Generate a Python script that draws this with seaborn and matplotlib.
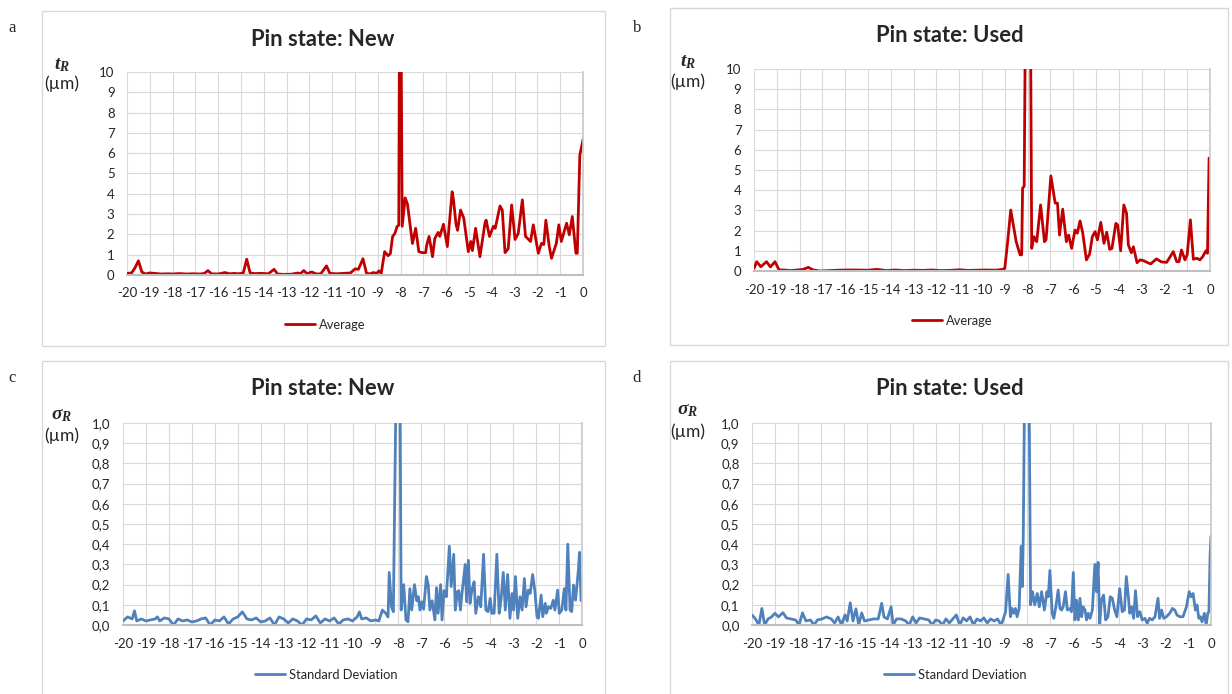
import numpy as np
import pandas as pd
import seaborn as sns
import matplotlib.pyplot as plt
from matplotlib.patches import Rectangle

# ---- data (x in mm, y in µm) ----
new_avg_x = [-20.0, -19.8, -19.65, -19.5, -19.35, -19.2, -19.0, -18.8, -18.5, -18.2, -18.0, -17.7, -17.4,
             -17.1, -16.8, -16.6, -16.45, -16.3, -16.0, -15.7, -15.5, -15.3, -15.1, -14.9, -14.75, -14.6,
             -14.4, -14.1, -13.8, -13.55, -13.4, -13.1, -12.8, -12.5, -12.4, -12.25, -12.1, -11.9, -11.7,
             -11.5, -11.25, -11.1, -10.8, -10.5, -10.2, -10.0, -9.85, -9.65, -9.5, -9.35, -9.2, -9.05, -8.95,
             -8.85, -8.7, -8.55, -8.45, -8.35, -8.25, -8.15, -8.08, -8.05, -7.98, -7.93, -7.8, -7.7, -7.48,
             -7.34, -7.2, -7.05, -6.9, -6.85, -6.75, -6.6, -6.5, -6.35, -6.28, -6.12, -5.95, -5.74, -5.68,
             -5.57, -5.5, -5.37, -5.23, -5.03, -4.92, -4.85, -4.71, -4.52, -4.3, -4.25, -4.1, -3.93, -3.85,
             -3.64, -3.54, -3.42, -3.28, -3.13, -2.98, -2.84, -2.66, -2.52, -2.3, -2.18, -1.96, -1.82, -1.72,
             -1.63, -1.48, -1.38, -1.17, -1.06, -0.95, -0.72, -0.6, -0.47, -0.31, -0.25, -0.14, 0.0]
new_avg_y = [0.08, 0.1, 0.35, 0.7, 0.15, 0.05, 0.1, 0.08, 0.05, 0.06, 0.05, 0.07, 0.05,
             0.06, 0.05, 0.08, 0.22, 0.06, 0.05, 0.12, 0.06, 0.08, 0.06, 0.1, 0.78, 0.1,
             0.07, 0.08, 0.06, 0.28, 0.05, 0.03, 0.04, 0.1, 0.05, 0.22, 0.06, 0.15, 0.05,
             0.06, 0.45, 0.08, 0.06, 0.08, 0.1, 0.3, 0.28, 0.8, 0.1, 0.05, 0.12, 0.08, 0.2,
             0.08, 1.15, 0.95, 1.05, 1.9, 2.05, 2.4, 2.45, 12.0, 12.0, 2.4, 3.8, 3.5, 1.55,
             2.3, 1.15, 1.1, 1.1, 1.5, 1.9, 0.9, 1.8, 2.1, 1.9, 2.5, 1.4, 4.1, 3.7,
             2.5, 2.2, 3.2, 2.8, 1.15, 1.65, 1.2, 2.3, 0.9, 2.55, 2.7, 1.9, 2.4, 2.3,
             3.4, 3.2, 1.1, 1.3, 3.45, 1.75, 2.05, 3.7, 1.9, 1.65, 2.47, 1.07, 1.56, 1.5,
             2.7, 1.4, 0.82, 1.56, 2.47, 1.65, 2.55, 1.98, 2.88, 1.07, 1.07, 5.9, 6.67]

used_avg_x = [-20.0, -19.88, -19.7, -19.45, -19.28, -19.08, -18.9, -18.7, -18.4, -18.1, -17.85, -17.62,
              -17.4, -17.1, -16.7, -16.3, -15.9, -15.45, -15.0, -14.6, -14.2, -13.8, -13.4, -13.0, -12.6,
              -12.2, -11.8, -11.4, -11.0, -10.6, -10.2, -9.8, -9.4, -9.1, -9.0, -8.87, -8.74, -8.5, -8.33,
              -8.26, -8.22, -8.15, -8.1, -7.87, -7.82, -7.72, -7.6, -7.43, -7.26, -7.19, -6.98, -6.79,
              -6.69, -6.6, -6.46, -6.3, -6.2, -6.07, -5.92, -5.82, -5.7, -5.58, -5.42, -5.28, -5.16,
              -5.04, -4.94, -4.79, -4.65, -4.53, -4.4, -4.3, -4.13, -4.05, -3.92, -3.78, -3.66, -3.58,
              -3.45, -3.36, -3.2, -3.06, -2.91, -2.77, -2.6, -2.35, -2.13, -1.9, -1.79, -1.61, -1.46,
              -1.36, -1.25, -1.1, -1.0, -0.86, -0.73, -0.58, -0.44, -0.32, -0.18, -0.11, -0.04, 0.0]
used_avg_y = [0.13, 0.46, 0.21, 0.46, 0.2, 0.46, 0.05, 0.05, 0.02, 0.05, 0.08, 0.18,
              0.05, 0.0, 0.02, 0.04, 0.05, 0.05, 0.04, 0.08, 0.02, 0.05, 0.02, 0.04, 0.03,
              0.05, 0.02, 0.03, 0.06, 0.03, 0.04, 0.05, 0.04, 0.08, 0.13, 1.5, 3.02, 1.45, 0.8,
              0.8, 4.1, 4.2, 12.0, 12.0, 1.12, 1.7, 1.45, 3.27, 1.45, 1.55, 4.71, 3.36,
              3.36, 1.78, 3.06, 1.45, 1.78, 1.12, 2.03, 1.87, 2.48, 1.87, 0.55, 0.84, 1.7,
              1.95, 1.54, 2.41, 1.37, 1.92, 1.07, 1.12, 2.36, 2.28, 1.0, 3.27, 2.86, 1.29,
              0.9, 1.2, 0.41, 0.55, 0.51, 0.43, 0.35, 0.6, 0.45, 0.43, 0.63, 0.96, 0.46,
              0.46, 1.04, 0.55, 0.8, 2.53, 0.58, 0.63, 0.55, 0.71, 1.0, 0.88, 5.59, 5.6]

new_std_x = [-20.0, -19.8, -19.6, -19.5, -19.4, -19.2, -19.0, -18.8, -18.6, -18.5, -18.4, -18.2, -18.0,
             -17.8, -17.6, -17.4, -17.2, -17.0, -16.8, -16.6, -16.4, -16.2, -16.0, -15.8, -15.6, -15.4,
             -15.2, -15.0, -14.8, -14.6, -14.4, -14.2, -14.0, -13.8, -13.6, -13.4, -13.2, -13.0, -12.8,
             -12.6, -12.4, -12.2, -12.0, -11.8, -11.6, -11.4, -11.2, -11.0, -10.8, -10.6, -10.4, -10.2,
             -10.0, -9.8, -9.7, -9.6, -9.4, -9.2,
             -9.0, -8.85, -8.7, -8.55, -8.45, -8.4, -8.3, -8.22, -8.1, -7.93, -7.88, -7.77, -7.67, -7.58,
             -7.5, -7.42, -7.3, -7.2, -7.13, -7.06, -6.98, -6.9, -6.78, -6.7, -6.63, -6.53, -6.41, -6.34,
             -6.27, -6.16, -6.1, -6.01, -5.95, -5.91, -5.78, -5.7, -5.59, -5.52, -5.43, -5.37, -5.3,
             -5.23, -5.09, -5.03, -4.95, -4.88, -4.8, -4.7, -4.63, -4.51, -4.41, -4.29, -4.19, -4.09,
             -4.0, -3.93, -3.83, -3.71, -3.61, -3.53, -3.43, -3.34, -3.24, -3.14, -3.05, -2.98, -2.9,
             -2.8, -2.7, -2.61, -2.51, -2.44, -2.34, -2.26, -2.15, -2.05, -1.96, -1.9, -1.78, -1.71,
             -1.6, -1.55, -1.46, -1.36, -1.25, -1.18, -1.06, -0.99, -0.88, -0.77, -0.7, -0.62, -0.52,
             -0.45, -0.37, -0.28, -0.22, -0.16, -0.11, -0.04, 0.0]
new_std_y = [0.02, 0.04, 0.03, 0.07, 0.02, 0.03, 0.02, 0.025, 0.03, 0.04, 0.02, 0.035, 0.03,
             0.0, 0.03, 0.02, 0.025, 0.015, 0.02, 0.03, 0.035, 0.0, 0.025, 0.02, 0.04, 0.005,
             0.03, 0.04, 0.065, 0.03, 0.025, 0.035, 0.015, 0.02, 0.035, 0.0, 0.04, 0.03, 0.01,
             0.03, 0.02, 0.0, 0.03, 0.025, 0.045, 0.01, 0.03, 0.02, 0.035, 0.005, 0.025, 0.03,
             0.02, 0.04, 0.065, 0.03, 0.035, 0.02,
             0.025, 0.02, 0.074, 0.058, 0.04, 0.26, 0.09, 0.066, 1.2, 1.2, 0.074, 0.2, 0.025, 0.016,
             0.18, 0.074, 0.2, 0.12, 0.14, 0.074, 0.115, 0.078, 0.24, 0.2, 0.074, 0.12, 0.025, 0.185,
             0.058, 0.2, 0.025, 0.17, 0.165, 0.14, 0.39, 0.19, 0.35, 0.074, 0.165, 0.17, 0.074,
             0.156, 0.3, 0.115, 0.32, 0.107, 0.173, 0.214, 0.058, 0.14, 0.09, 0.35, 0.074, 0.066,
             0.132, 0.058, 0.058, 0.35, 0.058, 0.123, 0.26, 0.074, 0.25, 0.033, 0.156, 0.074, 0.24,
             0.033, 0.14, 0.074, 0.23, 0.09, 0.173, 0.156, 0.25, 0.165, 0.041, 0.033, 0.148, 0.041,
             0.107, 0.058, 0.09, 0.082, 0.123, 0.074, 0.173, 0.058, 0.074, 0.18, 0.074, 0.4, 0.074,
             0.066, 0.198, 0.123, 0.198, 0.27, 0.36, 0.12, 0.13]

used_std_x = [-20.0, -19.85, -19.7, -19.57, -19.45, -19.3, -19.15, -19.0, -18.85, -18.65, -18.5, -18.3,
              -18.1, -17.95, -17.8, -17.65, -17.45, -17.3, -17.15, -16.95, -16.75, -16.55, -16.4, -16.25,
              -16.1, -15.95, -15.85, -15.72, -15.6, -15.47, -15.35, -15.22, -15.1, -14.9, -14.7, -14.5,
              -14.35, -14.25, -14.1, -13.94, -13.85, -13.7, -13.5, -13.3, -13.15, -13.0, -12.85, -12.7,
              -12.5, -12.3, -12.15, -12.0, -11.85, -11.7, -11.55, -11.4, -11.25, -11.1, -10.95, -10.8,
              -10.65, -10.5, -10.35, -10.2, -10.05, -9.9, -9.75, -9.6, -9.45, -9.3, -9.15, -9.05,
              -8.95, -8.84, -8.74, -8.67, -8.6, -8.52, -8.45, -8.36, -8.27, -8.22, -8.18, -8.12, -7.93,
              -7.86, -7.78, -7.68, -7.57, -7.48, -7.38, -7.26, -7.15, -7.09, -7.02, -6.92, -6.85, -6.76,
              -6.66, -6.58, -6.51, -6.44, -6.34, -6.26, -6.15, -6.08, -6.0, -5.93, -5.86, -5.78, -5.71,
              -5.64, -5.57, -5.49, -5.42, -5.35, -5.27, -5.17, -5.06, -4.99, -4.92, -4.85, -4.78, -4.68,
              -4.59, -4.49, -4.39, -4.3, -4.2, -4.1, -3.98, -3.87, -3.77, -3.69, -3.6, -3.54, -3.46,
              -3.37, -3.29, -3.2, -3.1, -3.0, -2.88, -2.78, -2.68, -2.56, -2.44, -2.31, -2.24, -2.15,
              -2.06, -1.94, -1.8, -1.68, -1.58, -1.48, -1.36, -1.22, -1.07, -0.95, -0.87, -0.78, -0.68,
              -0.61, -0.53, -0.46, -0.39, -0.29, -0.21, -0.14, -0.09, -0.04, 0.0]
used_std_y = [0.05, 0.03, 0.0, 0.082, 0.0, 0.03, 0.04, 0.058, 0.04, 0.061, 0.035, 0.03,
              0.025, 0.0, 0.06, 0.02, 0.025, 0.0, 0.025, 0.03, 0.04, 0.03, 0.01, 0.04,
              0.0, 0.05, 0.02, 0.11, 0.02, 0.08, 0.0, 0.06, 0.02, 0.025, 0.03, 0.03,
              0.107, 0.04, 0.03, 0.09, 0.0, 0.03, 0.03, 0.02, 0.0, 0.04, 0.01, 0.035,
              0.03, 0.025, 0.0, 0.025, 0.02, 0.0, 0.03, 0.01, 0.03, 0.05, 0.0, 0.035,
              0.02, 0.04, 0.0, 0.03, 0.02, 0.035, 0.01, 0.03, 0.02, 0.03, 0.0, 0.03,
              0.066, 0.25, 0.041, 0.082, 0.058, 0.082, 0.041, 0.082, 0.39, 0.19, 0.44, 1.2, 1.2,
              0.1, 0.165, 0.1, 0.156, 0.09, 0.165, 0.074, 0.165, 0.14, 0.27, 0.058, 0.033, 0.09,
              0.173, 0.082, 0.074, 0.09, 0.165, 0.074, 0.082, 0.066, 0.26, 0.025, 0.123, 0.025, 0.132,
              0.041, 0.09, 0.074, 0.025, 0.058, 0.033, 0.074, 0.3, 0.165, 0.31, 0.0, 0.123, 0.148,
              0.025, 0.041, 0.14, 0.132, 0.074, 0.041, 0.18, 0.066, 0.074, 0.24, 0.14, 0.058, 0.09,
              0.033, 0.17, 0.041, 0.066, 0.025, 0.033, 0.008, 0.033, 0.025, 0.041, 0.132, 0.033, 0.074,
              0.033, 0.041, 0.058, 0.082, 0.074, 0.049, 0.041, 0.041, 0.09, 0.165, 0.14, 0.156, 0.074,
              0.099, 0.033, 0.041, 0.016, 0.058, 0.0, 0.058, 0.066, 0.34, 0.44]

x_ticks = [-20, -19, -18, -17, -16, -15, -14, -13, -12, -11, -10, -9, -8, -7, -6, -5, -4, -3, -2, -1, 0]
avg_ticks = [0, 1, 2, 3, 4, 5, 6, 7, 8, 9, 10]
std_ticks = [0.0, 0.1, 0.2, 0.3, 0.4, 0.5, 0.6, 0.7, 0.8, 0.9, 1.0]
std_tick_labels = ["0,0", "0,1", "0,2", "0,3", "0,4", "0,5", "0,6", "0,7", "0,8", "0,9", "1,0"]

RED = "#C00000"
BLUE = "#4F81BD"

sns.set_style("white")
plt.rcParams["font.family"] = ["Lato", "DejaVu Sans"]
plt.rcParams["mathtext.fontset"] = "custom"
plt.rcParams["mathtext.it"] = "Liberation Serif:italic:bold"
plt.rcParams["mathtext.rm"] = "Liberation Serif:bold"

W, H = 1232, 694
fig = plt.figure(figsize=(W / 100, H / 100), dpi=100)


def fx(px):
    return px / W


def fy(py):
    return 1 - py / H


panels = [
    # letter, frame(l,t,r,b), axes(l,t,r,b), x, y, color, label, title, ylab, title x/y, ylab y's, legend x/y
    ("a", (42, 11, 605, 346), (127, 72, 583, 275), new_avg_x, new_avg_y, RED, "Average",
     "Pin state: New", r"$t_R$", 323, 40, 65, 84, 325, 325),
    ("b", (670, 8, 1228, 345), (754, 69, 1210, 271), used_avg_x, used_avg_y, RED, "Average",
     "Pin state: Used", r"$t_R$", 950, 36, 62, 82, 952, 321),
    ("c", (42, 361, 605, 700), (123, 423, 582, 625), new_std_x, new_std_y, BLUE, "Standard Deviation",
     "Pin state: New", r"$\sigma_R$", 323, 389, 415, 436, 326, 675),
    ("d", (670, 361, 1228, 700), (752, 423, 1211, 625), used_std_x, used_std_y, BLUE, "Standard Deviation",
     "Pin state: Used", r"$\sigma_R$", 950, 389, 411, 432, 955, 675),
]

for (letter, frame, box, xs, ys, color, label, title, ylab,
     tx, ty, ly1, ly2, legx, legy) in panels:
    fl, ft, fr, fb = frame
    fig.patches.append(Rectangle((fx(fl), fy(fb)), fx(fr) - fx(fl), fy(ft) - fy(fb),
                                 transform=fig.transFigure, fill=False,
                                 edgecolor="#d9d9d9", linewidth=1.0, zorder=0))
    l, t, r, b = box
    ax = fig.add_axes([fx(l), fy(b), fx(r) - fx(l), fy(t) - fy(b)])
    df = pd.DataFrame({"x": xs, "y": ys})
    sns.lineplot(data=df, x="x", y="y", ax=ax, color=color, linewidth=2.0, label=label)
    ax.set_xlim(-20, 0)
    ax.set_xticks(x_ticks)
    ax.set_xticklabels([str(v) for v in x_ticks])
    if letter in "ab":
        ax.set_ylim(0, 10)
        ax.set_yticks(avg_ticks)
        ax.set_yticklabels([str(v) for v in avg_ticks])
    else:
        ax.set_ylim(0, 1.0)
        ax.set_yticks(std_ticks)
        ax.set_yticklabels(std_tick_labels)
    ax.set_xlabel("")
    ax.set_ylabel("")
    ax.grid(True, color="#d9d9d9", linewidth=0.8)
    ax.set_axisbelow(True)
    for side in ["top", "left"]:
        ax.spines[side].set_visible(False)
    ax.spines["bottom"].set_color("#bfbfbf")
    ax.spines["bottom"].set_linewidth(1.5)
    ax.spines["right"].set_color("#c8c8c8")
    ax.spines["right"].set_linewidth(1.2)
    ax.tick_params(axis="both", length=0, labelsize=9.5, colors="#262626")
    ax.tick_params(axis="x", pad=9)
    ax.tick_params(axis="y", pad=9)

    ax.legend(loc="center", bbox_to_anchor=(fx(legx), fy(legy)), bbox_transform=fig.transFigure,
              frameon=False, fontsize=9.3, handlelength=2.3, handletextpad=0.3)

    fig.text(fx(tx), fy(ty), title, ha="center", va="center", fontsize=15.8, fontweight="bold")
    fig.text(fx(62 if letter in "ac" else 688), fy(ly1), ylab, ha="center", va="center", fontsize=14)
    fig.text(fx(62 if letter in "ac" else 688), fy(ly2), "(µm)", ha="center", va="center", fontsize=12.5)
    fig.text(fx(12 if letter in "ac" else 637), fy(28 if letter in "ab" else 378), letter,
             ha="center", va="center", fontsize=12, family="Liberation Serif")

fig.savefig("out.png", dpi=100)
